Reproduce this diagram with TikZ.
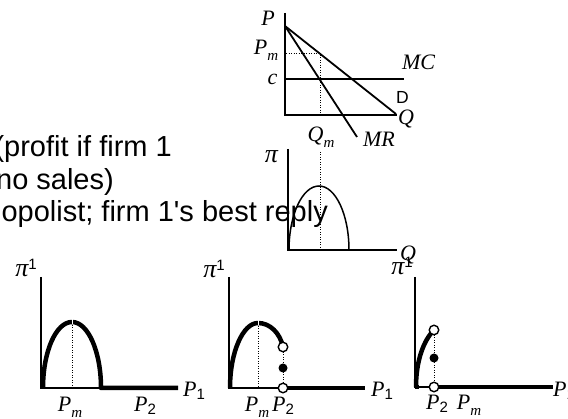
\documentclass[tikz,border=0pt]{standalone}
\usepackage{fontspec}
\setmainfont{Liberation Sans}
\newfontfamily\tms{Liberation Serif}
\newcommand{\sbm}[1]{\raisebox{-6pt}{\fontsize{15}{15}\selectfont\tms\itshape #1}}
\newcommand{\sbn}[1]{\raisebox{-2.5pt}{\fontsize{15}{15}\selectfont\upshape\rmfamily #1}}
\newcommand{\spn}[1]{\raisebox{7pt}{\fontsize{15}{15}\selectfont\upshape\rmfamily #1}}
\newcommand{\pig}{{\fontsize{26}{26}\selectfont π}}
\begin{document}
\begin{tikzpicture}[x=1pt,y=-1pt,
  ax/.style={line width=2pt},
  ln/.style={line width=1.8pt},
  thk/.style={line width=4.5pt,line join=round},
  dotl/.style={line width=1pt,dash pattern=on 1pt off 1.5pt},
  opn/.style={circle,draw,fill=white,line width=1.4pt,minimum size=9.5pt,inner sep=0pt},
  fil/.style={circle,fill=black,minimum size=9pt,inner sep=0pt},
  it/.style={font=\fontsize{22}{22}\selectfont\tms\itshape,inner sep=0pt,anchor=base},
  sf/.style={font=\fontsize{17.5}{17.5}\selectfont,inner sep=0pt,anchor=base},
  txt/.style={font=\fontsize{29}{31}\selectfont,inner sep=0pt,anchor=base east}]
\useasboundingbox (0,0) rectangle (568,419);
\clip (0,0) rectangle (568,419);

% ---- left text
\node[txt] (t1) at (172,157) {(profit if firm 1};
\node[txt] (t2) at (114,190) {no sales)};
\node[txt] (t3) at (328,222) {opolist; firm 1\textquotesingle s best reply};

% ---- top graph: demand, MR, MC
\draw[ax] (285,13) -- (285,115) -- (397,115);
\draw[ln] (285,26) -- (396,114);
\draw[ln] (285,26) -- (357,137);
\draw[ln] (285,79) -- (404,79);
\draw[dotl] (286,54) -- (320,54) -- (320,115);
\node[it] (lP) at (268,26) {P};
\node[it] (lPm) at (266,55) {P\sbm{m}};
\node[it] (lc) at (272.5,85) {c};
\node[it] (lMC) at (418.5,70) {MC};
\node[sf] (lD) at (402.5,104) {D};
\node[it] (lQm) at (321,142) {Q\sbm{m}};
\node[it] (lMR) at (379,147) {MR};

% ---- profit vs Q
\draw[ax] (288,149) -- (288,250) -- (397,250);
\draw[dotl] (320,152) -- (320,250);
\draw[line width=1.5pt] (289,250) .. controls (289,214.7) and (302.4,186) .. (319,186)
  .. controls (335.6,186) and (349,214.7) .. (349,250);
\node[it] (lpi) at (271.5,163) {\pig};

% ---- bottom graph 1
\draw[ax] (41,277) -- (41,388) -- (178,388);
\draw[thk] (43,388) .. controls (43,351.5) and (56,322) .. (72,322)
  .. controls (88,322) and (101,351.5) .. (101,388) -- (178,388);
\draw[dotl] (72,325) -- (72,388);
\draw[white,line width=0.8pt] (72,319.5) -- (72,324.5);
\node[it] (g1pi) at (26,277) {\pig\spn{1}};
\node[it] (g1P1) at (194,397) {P\sbn{1}};
\node[it] (g1Pm) at (70,412) {P\sbm{m}};
\node[it] (g1P2) at (145,412) {P\sbn{2}};

% ---- bottom graph 2
\draw[ax] (229,277) -- (229,388) -- (365,388);
\draw[thk] (230,388) .. controls (230,352) and (243,323) .. (258,323)
  .. controls (270,323) and (280,333) .. (283,347);
\draw[thk] (283,388) -- (365,388);
\draw[dotl] (258,326) -- (258,388);
\draw[white,line width=0.8pt] (258,320.5) -- (258,325.5);
\draw[dotl] (283,347) -- (283,388);
\node[opn] (g2o1) at (283,347) {};
\node[fil] (g2f) at (283,368) {};
\node[opn] (g2o2) at (283,388) {};
\node[it] (g2pi) at (214,278) {\pig\spn{1}};
\node[it] (g2P1) at (382,397) {P\sbn{1}};
\node[it] (g2Pm) at (257,412) {P\sbm{m}};
\node[it] (g2P2) at (283,412) {P\sbn{2}};

% ---- bottom graph 3
\draw[ax] (415,277) -- (415,387) -- (553,387);
\draw[thk] (416,387) .. controls (416,360) and (424,340) .. (434,330);
\draw[thk] (415,387) -- (419,387);
\draw[thk] (434,387) -- (553,387);
\draw[dotl] (434,330) -- (434,387);
\node[opn] (g3o1) at (434,330) {};
\node[fil] (g3f) at (434,358) {};
\node[opn] (g3o2) at (434,387) {};
\node[it] (g3pi) at (402,275) {\pig\spn{1}};
\node[it] (g3P1) at (564,397) {P\sbn{1}};
\node[it] (g3P2) at (437,410) {P\sbn{2}};
\node[it] (g3Pm) at (469,410) {P\sbm{m}};

% Q labels (drawn last, on top)
\node[it] (lQ) at (406,125) {Q};
\node[it] (lQ2) at (408,261) {Q};
\end{tikzpicture}
\end{document}
